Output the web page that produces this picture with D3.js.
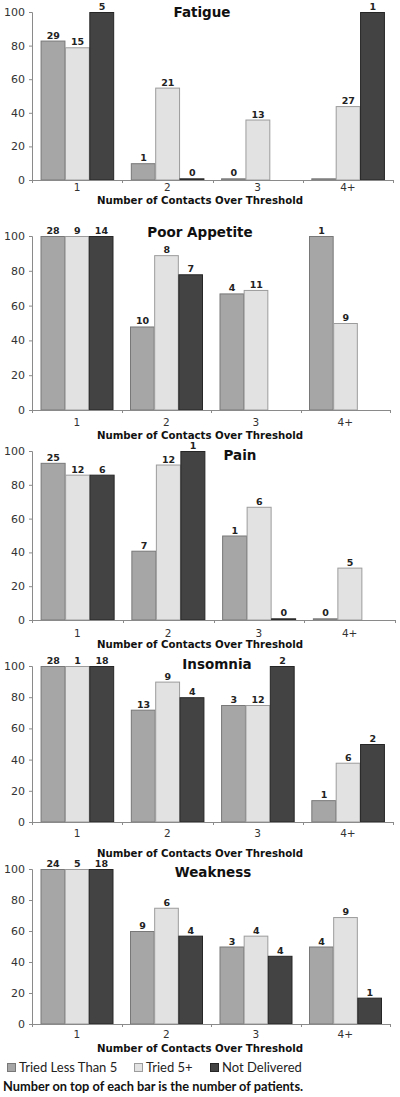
<!DOCTYPE html>
<html>
<head>
<meta charset="utf-8">
<script src="https://cdn.jsdelivr.net/npm/d3@7"></script>
<style>
html,body{margin:0;padding:0;background:#fff;}
svg{display:block;}
</style>
</head>
<body>
<svg id="chart" width="400" height="1097"></svg>
<script>
// ---- data ----
const categories = ["1", "2", "3", "4+"];
const seriesNames = ["Tried Less Than 5", "Tried 5+", "Not Delivered"];
const panelTitles = ["Fatigue", "Poor Appetite", "Pain", "Insomnia", "Weakness"];
const yTicks = [0, 20, 40, 60, 80, 100];
const xAxisTitle = "Number of Contacts Over Threshold";
const footnote = "Number on top of each bar is the number of patients.";

// percent values per panel: [series][category]
const fatigueValues = [[83, 10, 1, 1], [79, 55, 36, 44], [100, 1, null, 100]];
const fatigueCounts = [[29, 1, 0, null], [15, 21, 13, 27], [5, 0, null, 1]];
const appetiteValues = [[100, 48, 67, 100], [100, 89, 69, 50], [100, 78, null, null]];
const appetiteCounts = [[28, 10, 4, 1], [9, 8, 11, 9], [14, 7, null, null]];
const painValues = [[93, 41, 50, 1], [86, 92, 67, 31], [86, 100, 1, null]];
const painCounts = [[25, 7, 1, 0], [12, 12, 6, 5], [6, 1, 0, null]];
const insomniaValues = [[100, 72, 75, 14], [100, 90, 75, 38], [100, 80, 100, 50]];
const insomniaCounts = [[28, 13, 3, 1], [1, 9, 12, 6], [18, 4, 2, 2]];
const weaknessValues = [[100, 60, 50, 50], [100, 75, 57, 69], [100, 57, 44, 17]];
const weaknessCounts = [[24, 9, 3, 4], [5, 6, 4, 9], [18, 4, 4, 1]];

const panelValues = [fatigueValues, appetiteValues, painValues, insomniaValues, weaknessValues];
const panelCounts = [fatigueCounts, appetiteCounts, painCounts, insomniaCounts, weaknessCounts];

// ---- layout & style ----
const layout = [
  {top: 12, bottom: 180, tickY: 187, xTitleY: 200, titleX: 202, titleY: 12, right: 393},
  {top: 236, bottom: 410, tickY: 422, xTitleY: 435, titleX: 200, titleY: 232, right: 390},
  {top: 451, bottom: 620, tickY: 633, xTitleY: 644, titleX: 240, titleY: 455, right: 395},
  {top: 666, bottom: 822, tickY: 833, xTitleY: 853, titleX: 217, titleY: 664, right: 393},
  {top: 869, bottom: 1024, tickY: 1034, xTitleY: 1048, titleX: 213, titleY: 872, right: 390}
];
const left = 32;
const fills = ["#a6a6a6", "#e2e2e2", "#434343"];
const strokes = ["#787878", "#9c9c9c", "#262626"];

const svg = d3.select("#chart");

panelTitles.forEach((title, pi) => {
  const L = layout[pi];
  const vals = panelValues[pi];
  const cnts = panelCounts[pi];
  const g = svg.append("g");

  const x = d3.scaleBand().domain(categories).range([left, L.right])
    .paddingInner(0.19).paddingOuter(0.095);
  const xs = d3.scaleBand().domain(d3.range(seriesNames.length)).range([0, x.bandwidth()]);
  const y = d3.scaleLinear().domain([0, 100]).range([L.bottom, L.top]);
  const step = x.step();

  // y axis
  const yAxis = d3.axisLeft(y).tickValues(yTicks).tickSize(3).tickPadding(4);
  const ya = g.append("g").attr("transform", `translate(${left},0)`).call(yAxis);
  ya.select(".domain").attr("stroke", "#8a8a8a");
  ya.selectAll(".tick line").attr("stroke", "#8a8a8a");
  ya.selectAll(".tick text").attr("font-family", "DejaVu Sans").attr("font-size", 11).attr("fill", "#333");

  // bars
  vals.forEach((sv, si) => {
    categories.forEach((c, ci) => {
      const v = sv[ci];
      if (v === null) return;
      const bx = x(c) + xs(si);
      g.append("rect")
        .attr("x", bx + 0.5)
        .attr("y", y(v) + 0.5)
        .attr("width", xs.bandwidth() - 0.5)
        .attr("height", Math.max(0, y(0) - y(v) - 0.5))
        .attr("fill", fills[si])
        .attr("stroke", strokes[si])
        .attr("stroke-width", 1);
      const n = cnts[si][ci];
      if (n !== null) {
        g.append("text")
          .attr("x", bx + xs.bandwidth() / 2 + 0.5)
          .attr("y", y(v) - 2)
          .attr("text-anchor", "middle")
          .attr("font-family", "DejaVu Sans")
          .attr("font-weight", "bold")
          .attr("font-size", 9.5)
          .attr("fill", "#222")
          .text(n);
      }
    });
  });

  // x axis baseline and boundary ticks
  g.append("line").attr("x1", left).attr("x2", L.right).attr("y1", y(0) + 0.5).attr("y2", y(0) + 0.5)
    .attr("stroke", "#8a8a8a");
  d3.range(categories.length + 1).forEach(k => {
    const tx = Math.round(left + k * step) + 0.5;
    g.append("line").attr("x1", tx).attr("x2", tx).attr("y1", y(0)).attr("y2", y(0) + 3).attr("stroke", "#8a8a8a");
  });
  // category labels
  categories.forEach(c => {
    g.append("text")
      .attr("x", x(c) + x.bandwidth() / 2)
      .attr("y", L.tickY)
      .attr("dy", "0.35em")
      .attr("text-anchor", "middle")
      .attr("font-family", "DejaVu Sans")
      .attr("font-size", 10.5)
      .attr("fill", "#333")
      .text(c);
  });
  // x axis title
  g.append("text")
    .attr("x", 200).attr("y", L.xTitleY).attr("dy", "0.35em")
    .attr("text-anchor", "middle")
    .attr("font-family", "DejaVu Sans").attr("font-weight", "bold").attr("font-size", 10.2)
    .attr("fill", "#111")
    .text(xAxisTitle);
  // panel title
  g.append("text")
    .attr("x", L.titleX).attr("y", L.titleY).attr("dy", "0.35em")
    .attr("text-anchor", "middle")
    .attr("font-family", "DejaVu Sans").attr("font-weight", "bold").attr("font-size", 13.5)
    .attr("fill", "#111")
    .text(title);
});

// legend
const legendX = [7, 134, 210];
const lg = svg.append("g");
seriesNames.forEach((s, si) => {
  lg.append("rect").attr("x", legendX[si] + 0.5).attr("y", 1063.5).attr("width", 8).attr("height", 8)
    .attr("fill", fills[si]).attr("stroke", strokes[si]);
  lg.append("text").attr("x", legendX[si] + 12).attr("y", 1067.5).attr("dy", "0.35em")
    .attr("font-family", "Lato").attr("font-size", 13).attr("fill", "#222").text(s);
});
svg.append("text").attr("x", 3).attr("y", 1087).attr("dy", "0.35em")
  .attr("font-family", "Lato").attr("font-weight", "bold").attr("font-size", 12.8).attr("fill", "#111")
  .text(footnote);
</script>
</body>
</html>
